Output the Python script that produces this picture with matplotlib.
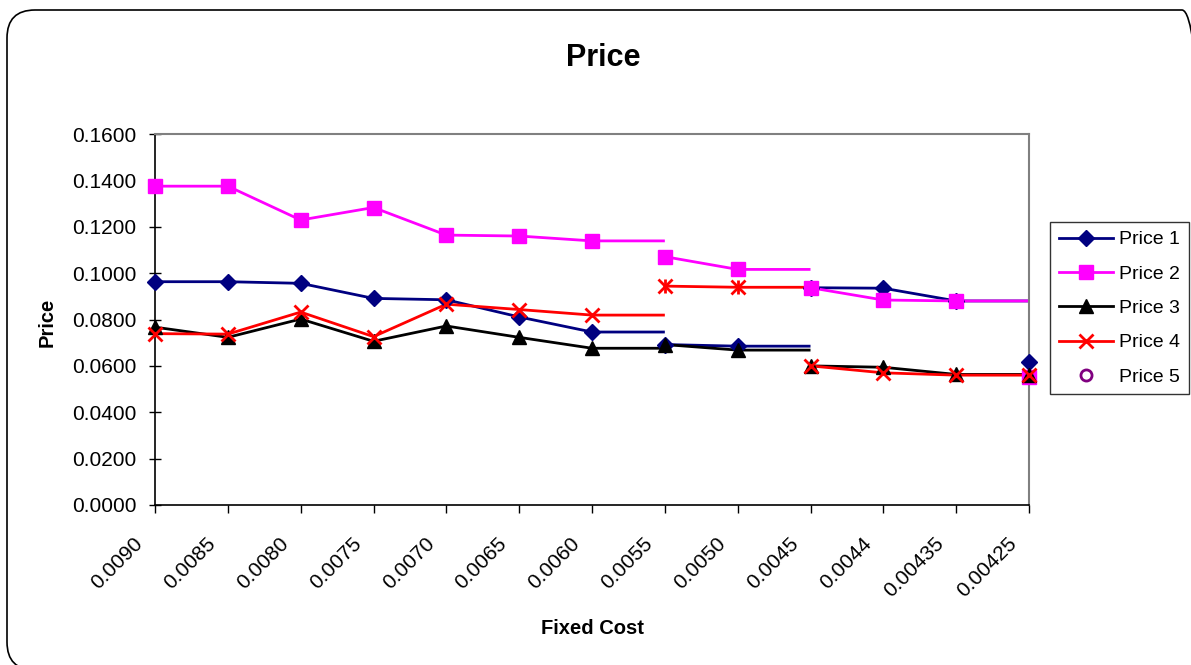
import matplotlib
matplotlib.use('Agg')
import matplotlib.pyplot as plt
import matplotlib.transforms as mtransforms
from matplotlib.lines import Line2D
from matplotlib.patches import FancyBboxPatch

plt.rcParams['font.family'] = ['Liberation Sans', 'DejaVu Sans']

# categories on the x axis
fixed_cost = ['0.0090', '0.0085', '0.0080', '0.0075', '0.0070', '0.0065', '0.0060',
              '0.0055', '0.0050', '0.0045', '0.0044', '0.00435', '0.00425']

# each series comes in blocks starting at these categories;
# a block's line runs on one step further at its last value
block_starts = [0, 7, 9, 12]

price1 = [[0.0963, 0.0963, 0.0956, 0.0891, 0.0885, 0.0811, 0.0746],
          [0.0692, 0.0685],
          [0.0937, 0.0935, 0.0880],
          [0.0618]]
price2 = [[0.1375, 0.1375, 0.1229, 0.1283, 0.1164, 0.1160, 0.1139],
          [0.1071, 0.1016],
          [0.0937, 0.0884, 0.0880],
          [0.0553]]
price3 = [[0.0767, 0.0723, 0.0802, 0.0706, 0.0772, 0.0723, 0.0676],
          [0.0692, 0.0668],
          [0.0600, 0.0594, 0.0563],
          [0.0560]]
price4 = [[0.0739, 0.0737, 0.0832, 0.0726, 0.0866, 0.0843, 0.0819],
          [0.0944, 0.0939],
          [0.0600, 0.0570, 0.0560],
          [0.0560]]

series = [('Price 1', price1, '#000080', 'D'),
          ('Price 2', price2, '#FF00FF', 's'),
          ('Price 3', price3, '#000000', '^'),
          ('Price 4', price4, '#FF0000', 'x')]

def msize(mk):
    return {'D': 8.5, 's': 10.5, '^': 10.5, 'x': 10}[mk]

fig = plt.figure(figsize=(11.91, 6.65), dpi=100)
ax = fig.add_axes([155/1191, 1-505/665, (1029-155)/1191, (505-134)/665])

for name, blocks, col, mk in series:
    for b, vals in enumerate(blocks):
        s = block_starts[b]
        xs = list(range(s, s+len(vals)))
        # line extension to the next category
        if b < len(blocks)-1:
            ax.plot(xs + [xs[-1]+1], vals + [vals[-1]], color=col, lw=2.0,
                    solid_capstyle='butt', zorder=2)
        mew = 2.0 if mk == 'x' else 1
        ax.plot(xs, vals, ls='none', marker=mk, color=col, ms=msize(mk), mew=mew,
                clip_on=False, zorder=3)
        if name == 'Price 4' and b == 1:
            ax.plot(xs, vals, ls='none', marker='|', color=col, ms=msize(mk),
                    mew=mew, clip_on=False, zorder=3)

ax.set_xlim(0, 12)
ax.set_ylim(0, 0.16)
ax.set_yticks([i*0.02 for i in range(9)])
ax.yaxis.set_major_formatter(matplotlib.ticker.FormatStrFormatter('%.4f'))
ax.set_xticks(range(len(fixed_cost)))
ax.set_xticklabels(fixed_cost, rotation=45, ha='right', va='center',
                   rotation_mode='anchor')
ax.tick_params(axis='y', direction='inout', length=9, width=1, labelsize=15, pad=9)
ax.tick_params(axis='x', direction='out', length=6, width=1, labelsize=15, pad=22)
shift = mtransforms.ScaledTranslation(-0.15, 0.03, fig.dpi_scale_trans)
for lab in ax.get_xticklabels():
    lab.set_transform(lab.get_transform() + shift)

for sp in ['top', 'right']:
    ax.spines[sp].set_color('#808080')
    ax.spines[sp].set_linewidth(1.5)
for sp in ['left', 'bottom']:
    ax.spines[sp].set_color('#000000')
    ax.spines[sp].set_linewidth(1.2)

fig.text(603/1191, 1-58/665, 'Price', fontsize=22, fontweight='bold',
         ha='center', va='center')
fig.text(47/1191, 1-322/665, 'Price', fontsize=14.5, fontweight='bold',
         ha='center', va='center', rotation=90)
fig.text(592/1191, 1-628/665, 'Fixed Cost', fontsize=14.5, fontweight='bold',
         ha='center', va='center')

handles = []
for name, blocks, col, mk in series:
    handles.append(Line2D([], [], color=col, lw=2.0, marker=mk, ms=msize(mk),
                          mew=2.0 if mk == 'x' else 1, label=name))
handles.append(Line2D([], [], color='#800080', ls='none', marker='o', ms=8,
                      mfc='white', mew=2, label='Price 5'))
leg = fig.legend(handles=handles, loc='upper left',
                 bbox_to_anchor=(1050/1191, 1-222/665), fontsize=14,
                 frameon=True, fancybox=False, edgecolor='black',
                 handlelength=2.8, handletextpad=0.3, labelspacing=0.86,
                 borderpad=0.45, borderaxespad=0)
leg.get_frame().set_linewidth(1.0)

frame = FancyBboxPatch((0.07, -0.05), 12.03, 6.6,
                       boxstyle='round,pad=0,rounding_size=0.28',
                       transform=fig.dpi_scale_trans, fill=False,
                       edgecolor='black', lw=1.2)
fig.patches.append(frame)

fig.savefig('out.png', dpi=100)
